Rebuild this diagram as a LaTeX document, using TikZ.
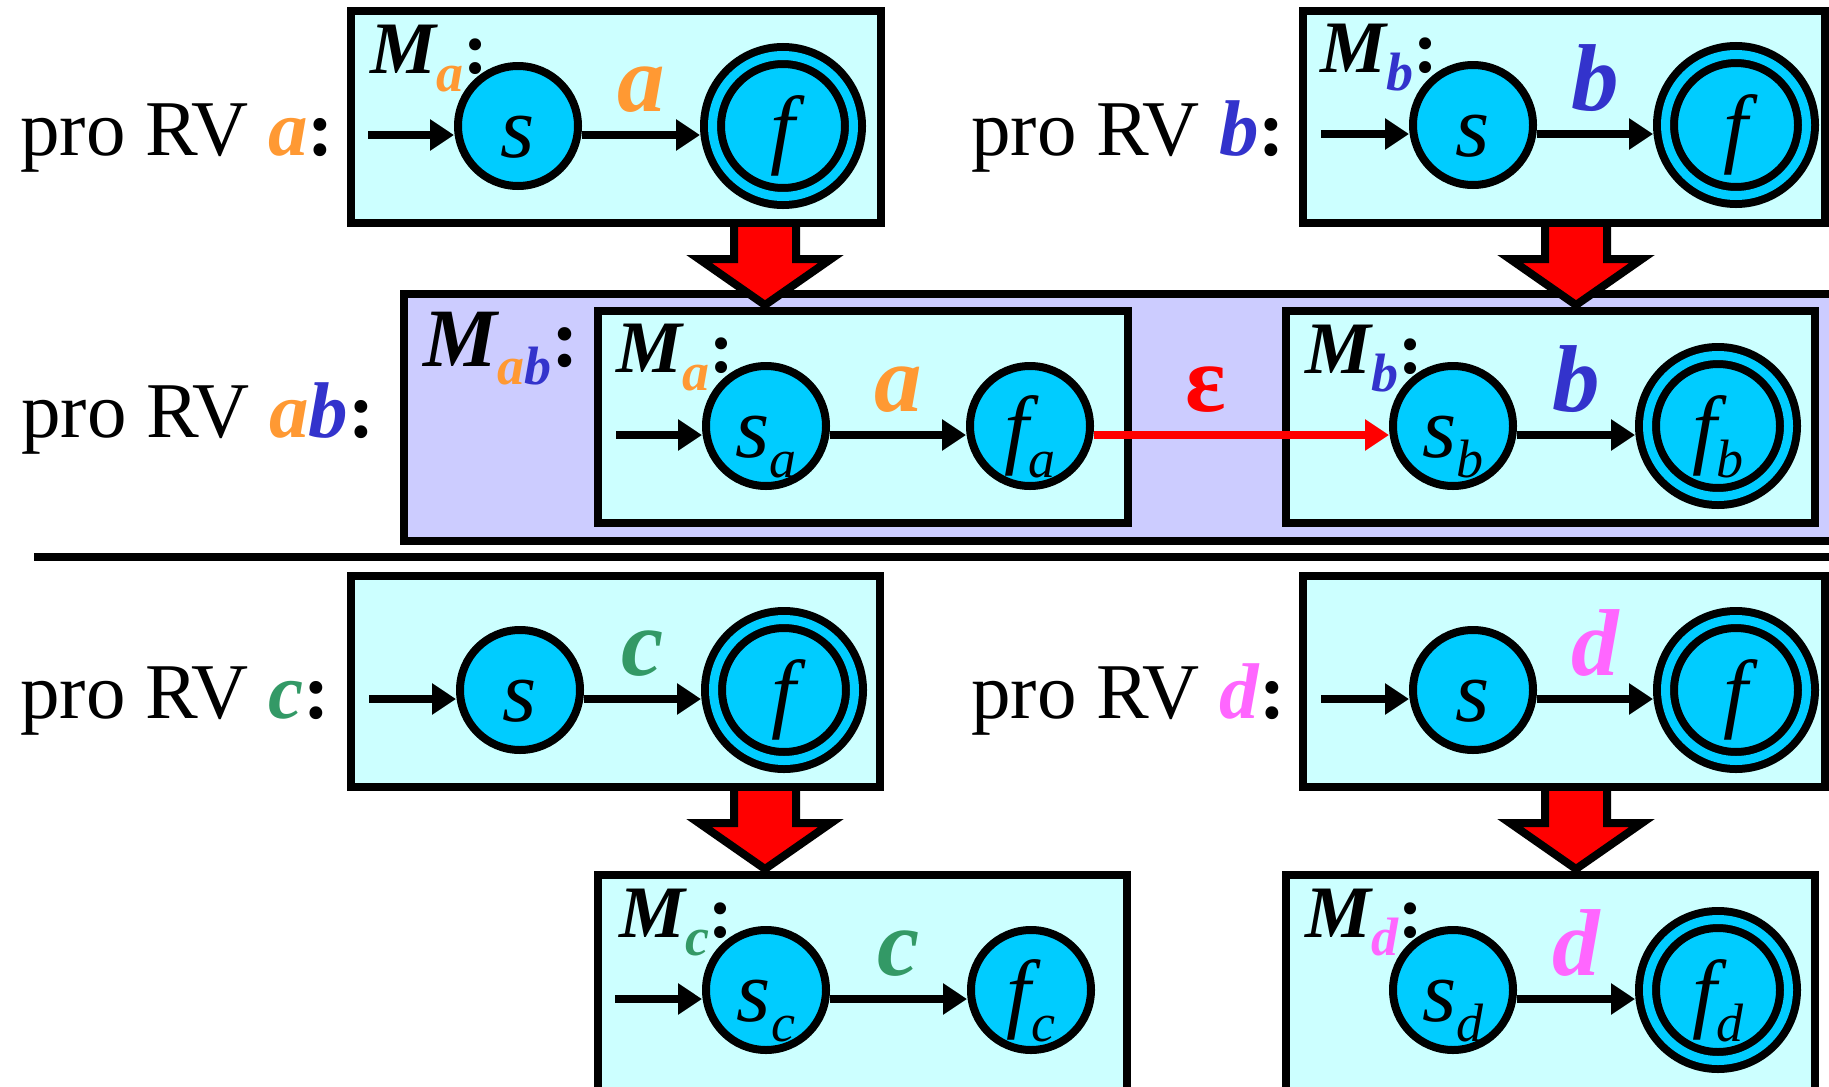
\documentclass[tikz,border=0pt]{standalone}
\usepackage{fontspec}
\setmainfont{Liberation Serif}
\usetikzlibrary{arrows.meta, calc}

\definecolor{boxcyan}{HTML}{CCFFFF}
\definecolor{boxlav}{HTML}{CCCCFF}
\definecolor{statecyan}{HTML}{00CCFF}
\definecolor{rvA}{HTML}{FF9933}
\definecolor{rvB}{HTML}{3333CC}
\definecolor{rvC}{HTML}{339966}
\definecolor{rvD}{HTML}{FF66FF}
\definecolor{epsred}{HTML}{FF0000}

\newcommand{\rvl}[2]{\textcolor{#1}{\textbf{\textit{#2}}}}
\newcommand{\msub}[1]{\raisebox{-18pt}{\fontsize{54}{54}\selectfont #1}}
\newcommand{\ssub}[1]{\raisebox{-20pt}{\fontsize{54}{54}\selectfont #1}}

\begin{document}
\begin{tikzpicture}[x=1pt, y=-1pt,%
  autbox/.style={draw, line width=8.5pt, fill=boxcyan, inner sep=0pt, minimum width=530pt, minimum height=212pt},%
  joinbox/.style={draw, line width=8.5pt, fill=boxlav, inner sep=0pt},%
  stnode/.style={circle, draw, line width=8pt, fill=statecyan, minimum size=120pt, inner sep=0pt, text height=62pt, text depth=0pt, font=\fontsize{88}{88}\selectfont\itshape},%
  stfinal/.style={stnode, double=statecyan, double distance=9pt, minimum size=141pt, outer sep=12.5pt},%
  trans/.style={line width=8pt, -{Triangle[length=24pt,width=30pt]}, transform canvas={yshift=-9pt}},%
  elabel/.style={above=17pt, inner sep=3pt, text depth=0pt, font=\fontsize{95}{95}\selectfont\bfseries\itshape},%
  rvtext/.style={anchor=base west, inner sep=0pt, font=\fontsize{79}{80}\selectfont},%
  mlabel/.style={anchor=base west, inner sep=0pt, font=\fontsize{74}{76}\selectfont\bfseries\itshape},%
  blockarrow/.style={draw, line width=8pt, fill=epsred, line join=miter}%
]
  \useasboundingbox (0,0) rectangle (1829,1087);
  \clip (0,0) rectangle (1829,1087);

  % boxes
  \node[autbox] (boxA) at (616,117) {};
  \node[autbox, minimum width=522pt] (boxB) at (1564,117) {};
  \node[joinbox, minimum width=1456pt, minimum height=247pt] (boxAB) at (1132,417.5) {};
  \node[autbox] (boxABa) at (863,417) {};
  \node[autbox, minimum width=529pt] (boxABb) at (1550.5,417) {};
  \node[autbox, minimum width=529pt, minimum height=211pt] (boxC) at (615.5,681.5) {};
  \node[autbox, minimum width=522pt, minimum height=211pt] (boxD) at (1564,681.5) {};
  \node[autbox, minimum width=529pt, minimum height=220pt] (boxCc) at (862.5,985) {};
  \node[autbox, minimum width=529pt, minimum height=220pt] (boxDd) at (1550.5,985) {};

  % red block arrows
  \foreach \x/\y in {765/227, 1576/227, 765/791, 1576/791}
    \draw[blockarrow] ({\x-31},\y) -- ++(0,32) -- ++(-35,0) -- ++(66,46) -- ++(66,-46) -- ++(-35,0) -- ++(0,-32);

  \draw[line width=8pt] (34,557) -- (1840,557);

  % texts on the left
  \node[rvtext] (proA) at (20,155) {pro RV \rvl{rvA}{a}\textbf{:}};
  \node[rvtext] (proB) at (971,155) {pro RV \rvl{rvB}{b}\textbf{:}};
  \node[rvtext] (proAB) at (21,437) {pro RV \rvl{rvA}{a}\rvl{rvB}{b}\textbf{:}};
  \node[rvtext] (proC) at (20,718) {pro RV \rvl{rvC}{c}\textbf{:}};
  \node[rvtext] (proD) at (971,718) {pro RV \rvl{rvD}{d}\textbf{:}};

  % states
  \node[stnode] (sA) at (518,126) {s};
  \node[stfinal] (fA) at (783,126) {f};
  \node[stnode] (sB) at (1473,125) {s};
  \node[stfinal] (fB) at (1736,125) {f};
  \node[stnode] (sABa) at (766,426) {s\ssub{a}};
  \node[stnode] (fABa) at (1030,426) {f\ssub{a}};
  \node[stnode] (sABb) at (1453,426) {s\ssub{b}};
  \node[stfinal] (fABb) at (1718,426) {f\ssub{b}};
  \node[stnode] (sC) at (520,690) {s};
  \node[stfinal] (fC) at (784,690) {f};
  \node[stnode] (sD) at (1473,690) {s};
  \node[stfinal] (fD) at (1736,690) {f};
  \node[stnode] (sCc) at (766,990) {s\ssub{c}};
  \node[stnode] (fCc) at (1031,990) {f\ssub{c}};
  \node[stnode] (sDd) at (1453,990) {s\ssub{d}};
  \node[stfinal] (fDd) at (1718,990) {f\ssub{d}};

  % transitions
  \draw[trans] ($(sA)+(-150,0)$) -- (sA);
  \draw[trans] (sA) -- node[elabel, text=rvA] {a} (fA);
  \draw[trans] ($(sB)+(-152,0)$) -- (sB);
  \draw[trans] (sB) -- node[elabel, text=rvB] {b} (fB);
  \draw[trans] ($(sABa)+(-150,0)$) -- (sABa);
  \draw[trans] (sABa) -- node[elabel, text=rvA] {a} (fABa);
  \draw[trans, draw=epsred, -{Triangle[length=24pt,width=30pt,fill=epsred]}] (fABa) -- node[elabel, pos=.38, text=epsred, font=\fontsize{95}{95}\selectfont\bfseries] {ε} (sABb);
  \draw[trans] (sABb) -- node[elabel, text=rvB] {b} (fABb);
  \draw[trans] ($(sC)+(-151,0)$) -- (sC);
  \draw[trans] (sC) -- node[elabel, text=rvC] {c} (fC);
  \draw[trans] ($(sD)+(-152,0)$) -- (sD);
  \draw[trans] (sD) -- node[elabel, text=rvD] {d} (fD);
  \draw[trans] ($(sCc)+(-151,0)$) -- (sCc);
  \draw[trans] (sCc) -- node[elabel, text=rvC] {c} (fCc);
  \draw[trans] (sDd) -- node[elabel, text=rvD] {d} (fDd);

  % machine names
  \node[mlabel] (mA) at (370,73) {M\msub{\textcolor{rvA}{a}}\textup{:}};
  \node[mlabel] (mB) at (1320,72) {M\msub{\textcolor{rvB}{b}}\textup{:}};
  \node[mlabel, font=\fontsize{83}{85}\selectfont\bfseries\itshape] (mAB) at (423,366) {M\msub{\textcolor{rvA}{a}\textcolor{rvB}{b}}\textup{:}};
  \node[mlabel] (mABa) at (616,372) {M\msub{\textcolor{rvA}{a}}\textup{:}};
  \node[mlabel] (mABb) at (1305,373) {M\msub{\textcolor{rvB}{b}}\textup{:}};
  \node[mlabel] (mCc) at (619,937) {M\msub{\textcolor{rvC}{c}}\textup{:}};
  \node[mlabel] (mDd) at (1305,937) {M\msub{\textcolor{rvD}{d}}\textup{:}};
\end{tikzpicture}
\end{document}
